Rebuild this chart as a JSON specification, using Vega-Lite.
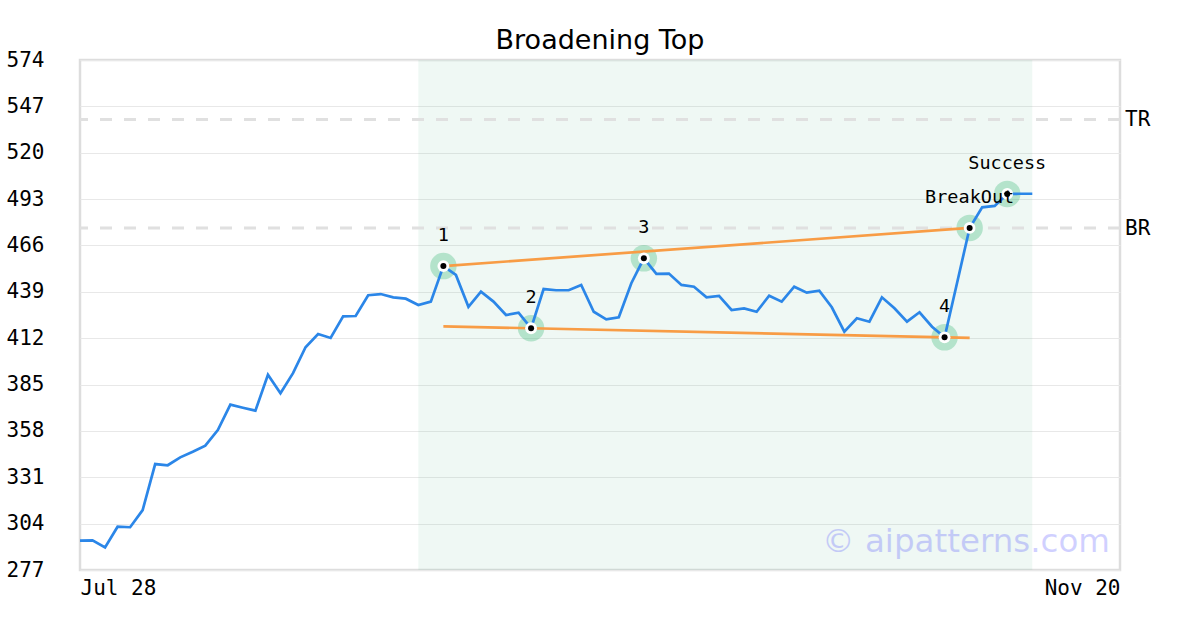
{
  "$schema": "https://vega.github.io/schema/vega-lite/v6.json",
  "width": 1040,
  "height": 510,
  "autosize": {"type": "none"},
  "padding": {"left": 80, "top": 60, "right": 80, "bottom": 60},
  "background": "white",
  "title": {"text": "Broadening Top", "font": "DejaVu Sans", "fontSize": 27, "fontWeight": "normal", "color": "#000000", "anchor": "middle", "frame": "group", "offset": -6},
  "config": {
    "view": {"stroke": "#dddddd", "strokeWidth": 2.5},
    "axis": {"labelFont": "DejaVu Sans Mono", "labelFontSize": 21, "labelColor": "#000000", "ticks": false, "domain": false, "title": null, "gridColor": "#e8e8e8", "gridWidth": 1}
  },
  "datasets": {
    "price": [
      {"i": 0, "close": 294.1}, {"i": 1, "close": 294.3}, {"i": 2, "close": 290.2}, {"i": 3, "close": 302.2},
      {"i": 4, "close": 301.9}, {"i": 5, "close": 311.9}, {"i": 6, "close": 338.7}, {"i": 7, "close": 338.0},
      {"i": 8, "close": 342.6}, {"i": 9, "close": 345.9}, {"i": 10, "close": 349.4}, {"i": 11, "close": 358.5},
      {"i": 12, "close": 373.3}, {"i": 13, "close": 371.5}, {"i": 14, "close": 369.8}, {"i": 15, "close": 390.7},
      {"i": 16, "close": 379.9}, {"i": 17, "close": 391.6}, {"i": 18, "close": 406.7}, {"i": 19, "close": 414.4},
      {"i": 20, "close": 412.1}, {"i": 21, "close": 424.7}, {"i": 22, "close": 424.9}, {"i": 23, "close": 437.0},
      {"i": 24, "close": 437.7}, {"i": 25, "close": 435.8}, {"i": 26, "close": 435.0}, {"i": 27, "close": 431.3},
      {"i": 28, "close": 433.3}, {"i": 29, "close": 454.0}, {"i": 30, "close": 448.8}, {"i": 31, "close": 430.3},
      {"i": 32, "close": 439.1}, {"i": 33, "close": 433.3}, {"i": 34, "close": 425.5}, {"i": 35, "close": 426.8},
      {"i": 36, "close": 417.8}, {"i": 37, "close": 440.6}, {"i": 38, "close": 439.9}, {"i": 39, "close": 439.9},
      {"i": 40, "close": 443.0}, {"i": 41, "close": 427.4}, {"i": 42, "close": 423.0}, {"i": 43, "close": 424.2},
      {"i": 44, "close": 444.0}, {"i": 45, "close": 458.5}, {"i": 46, "close": 449.4}, {"i": 47, "close": 449.6},
      {"i": 48, "close": 443.0}, {"i": 49, "close": 442.0}, {"i": 50, "close": 435.8}, {"i": 51, "close": 436.6},
      {"i": 52, "close": 428.4}, {"i": 53, "close": 429.3}, {"i": 54, "close": 427.4}, {"i": 55, "close": 436.7},
      {"i": 56, "close": 433.3}, {"i": 57, "close": 442.0}, {"i": 58, "close": 438.5}, {"i": 59, "close": 439.7},
      {"i": 60, "close": 430.0}, {"i": 61, "close": 415.8}, {"i": 62, "close": 423.6}, {"i": 63, "close": 421.6},
      {"i": 64, "close": 435.8}, {"i": 65, "close": 429.4}, {"i": 66, "close": 421.6}, {"i": 67, "close": 427.1},
      {"i": 68, "close": 418.7}, {"i": 69, "close": 412.5}, {"i": 70, "close": 444.3}, {"i": 71, "close": 476.2},
      {"i": 72, "close": 488.2}, {"i": 73, "close": 489.0}, {"i": 74, "close": 496.0}, {"i": 75, "close": 496.1},
      {"i": 76, "close": 496.1}
    ],
    "pivots": [
      {"i": 29, "close": 454.0, "label": "1"},
      {"i": 36, "close": 417.8, "label": "2"},
      {"i": 45, "close": 458.5, "label": "3"},
      {"i": 69, "close": 412.5, "label": "4"},
      {"i": 71, "close": 476.2, "label": "BreakOut"},
      {"i": 74, "close": 496.0, "label": "Success"}
    ],
    "trend": [
      {"line": "upper", "i": 29, "close": 454.0},
      {"line": "upper", "i": 71, "close": 476.2},
      {"line": "lower", "i": 29, "close": 418.9},
      {"line": "lower", "i": 71, "close": 412.2}
    ],
    "levels": [
      {"name": "TR", "i": 83, "close": 539.4},
      {"name": "BR", "i": 83, "close": 476.2}
    ],
    "zone": [{"start": 27, "end": 76, "top": 574, "bottom": 277}],
    "mark": [{"i": 82.2, "close": 293.3, "text": "© aipatterns.com"}]
  },
  "encoding": {
    "x": {"field": "i", "type": "quantitative", "scale": {"domain": [0, 83], "nice": false, "zero": false},
      "axis": {"values": [0, 83], "labelExpr": "datum.value == 0 ? 'Jul 28' : 'Nov 20'", "labelFlush": true, "labelPadding": 7, "grid": false}},
    "y": {"field": "close", "type": "quantitative", "scale": {"domain": [277, 574], "nice": false, "zero": false},
      "axis": {"values": [277, 304, 331, 358, 385, 412, 439, 466, 493, 520, 547, 574], "labelPadding": 36, "grid": true}}
  },
  "layer": [
    {
      "data": {"name": "zone"},
      "mark": {"type": "rect", "fill": "#4db38a", "opacity": 0.09},
      "encoding": {
        "x": {"field": "start", "type": "quantitative"},
        "x2": {"field": "end"},
        "y": {"field": "top", "type": "quantitative"},
        "y2": {"field": "bottom"}
      }
    },
    {
      "data": {"name": "levels"},
      "mark": {"type": "rule", "stroke": "#e0e0e0", "strokeWidth": 3, "strokeDash": [12, 12]},
      "encoding": {"x": null, "y": {"field": "close", "type": "quantitative"}}
    },
    {
      "data": {"name": "levels"},
      "mark": {"type": "text", "align": "left", "baseline": "middle", "dx": 5, "dy": 1, "font": "DejaVu Sans Mono", "fontSize": 21, "fill": "#000000", "clip": false},
      "encoding": {"text": {"field": "name", "type": "nominal"}}
    },
    {
      "data": {"name": "pivots"},
      "mark": {"type": "point", "shape": "circle", "filled": true, "size": 700, "color": "#3cb878", "opacity": 0.33, "strokeWidth": 0}
    },
    {
      "data": {"name": "price"},
      "mark": {"type": "line", "color": "#2b86e8", "strokeWidth": 2.7}
    },
    {
      "data": {"name": "trend"},
      "mark": {"type": "line", "color": "#f89c45", "strokeWidth": 2.7},
      "encoding": {"detail": {"field": "line"}}
    },
    {
      "data": {"name": "pivots"},
      "mark": {"type": "point", "shape": "circle", "filled": true, "size": 140, "color": "#ffffff", "opacity": 1, "strokeWidth": 0}
    },
    {
      "data": {"name": "pivots"},
      "mark": {"type": "point", "shape": "circle", "filled": true, "size": 36, "color": "#000000", "opacity": 1, "strokeWidth": 0}
    },
    {
      "data": {"name": "pivots"},
      "mark": {"type": "text", "align": "center", "baseline": "middle", "dy": -31, "font": "DejaVu Sans Mono", "fontSize": 18.5, "color": "#000000"},
      "encoding": {"text": {"field": "label"}}
    },
    {
      "data": {"name": "mark"},
      "mark": {"type": "text", "align": "right", "baseline": "middle", "font": "DejaVu Sans", "fontSize": 32.5, "color": "#1a1aff", "opacity": 0.2},
      "encoding": {"text": {"field": "text"}}
    }
  ]
}
